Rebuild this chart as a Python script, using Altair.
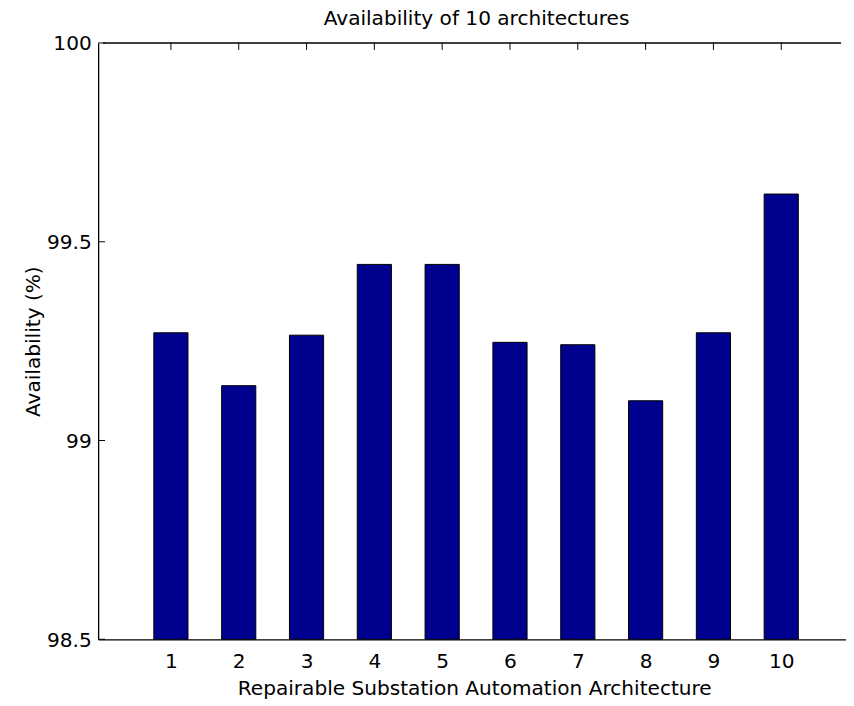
import altair as alt
import pandas as pd

# Data
architectures = [1, 2, 3, 4, 5, 6, 7, 8, 9, 10]
availability = [99.271, 99.138, 99.265, 99.443, 99.443, 99.247, 99.241, 99.100, 99.271, 99.620]
x_ticks = [1, 2, 3, 4, 5, 6, 7, 8, 9, 10]
y_ticks = [98.5, 99, 99.5, 100]
y_min, y_max = 98.5, 100
x_min, x_max = 0, 10.882
chart_title = ["Availability of 10 architectures"]

FONT = "DejaVu Sans"
FS = 20.3
W, H = 755, 602

df = pd.DataFrame({"arch": architectures, "avail": availability})
tx = pd.DataFrame({"t": x_ticks})
ty = pd.DataFrame({"t": y_ticks})
border = pd.DataFrame({"a": [x_min], "b": [x_max]})
tdf = pd.DataFrame({"title": chart_title})

xs = alt.Scale(domain=[x_min, x_max], nice=False, zero=False)
ys = alt.Scale(domain=[y_min, y_max], nice=False, zero=False)

bars = alt.Chart(df).mark_bar(size=34.5, color="#00008F", stroke="black", strokeWidth=1).encode(
    x=alt.X("arch:Q", scale=xs, axis=alt.Axis(
        values=x_ticks, format="d", ticks=False, grid=False, domain=True, domainColor="black",
        domainWidth=1.3, labelFontSize=FS, labelPadding=28.7, labelBaseline="alphabetic",
        labelColor="black", labelFont=FONT,
        title="Repairable Substation Automation Architecture",
        titleFontSize=FS, titleFontWeight="normal", titleFont=FONT, titleColor="black",
        titleX=379.7, titleY=55.3, titleAlign="center", titleBaseline="alphabetic")),
    y=alt.Y("avail:Q", scale=ys, axis=alt.Axis(
        values=y_ticks, format="~g", ticks=False, grid=False, domain=True,
        domainColor="black", domainWidth=1.3, labelFontSize=FS, labelPadding=7,
        labelOffset=1, labelColor="black", labelFont=FONT, title="Availability (%)",
        titleFontSize=FS, titleFontWeight="normal", titleFont=FONT, titleColor="black",
        titleX=-65, titleY=H / 2, titleAlign="center", titleBaseline="middle")),
    y2=alt.Y2(datum=y_min),
)

top_ticks = alt.Chart(tx).mark_rule(color="black", strokeWidth=1).encode(
    x=alt.X("t:Q", scale=xs), y=alt.value(0), y2=alt.value(7))
left_ticks = alt.Chart(ty).mark_rule(color="black", strokeWidth=1).encode(
    y=alt.Y("t:Q", scale=ys), x=alt.value(0), x2=alt.value(7))
top_border = alt.Chart(border).mark_rule(color="black", strokeWidth=1.3).encode(
    x=alt.X("a:Q", scale=xs), x2="b:Q", y=alt.value(0))
title_text = alt.Chart(tdf).mark_text(
    font=FONT, fontSize=FS, color="black", align="center", baseline="alphabetic"
).encode(text="title:N", x=alt.value(382), y=alt.value(-18.5))

chart = alt.layer(bars, top_ticks, left_ticks, top_border, title_text).properties(
    width=W, height=H,
    autosize=alt.AutoSizeParams(type="none"),
    padding={"left": 91, "top": 32, "right": 0, "bottom": 62},
).configure(font=FONT).configure_view(strokeWidth=0)

chart.save("out.html", embed_options={"renderer": "svg", "actions": False})
